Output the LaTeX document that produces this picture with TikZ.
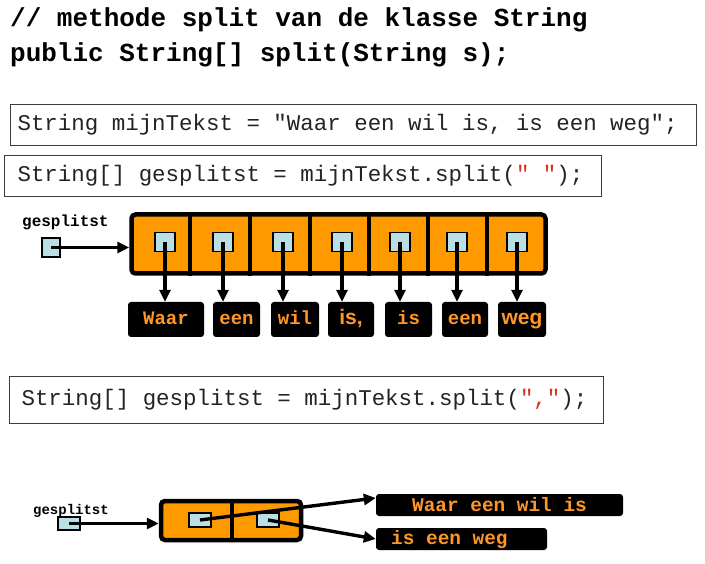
\documentclass[tikz,border=0pt]{standalone}
\usepackage{fontspec}
\setmonofont{Liberation Mono}
\newfontfamily\sansfam{Liberation Sans}
\usetikzlibrary{arrows.meta}

\definecolor{arrfill}{RGB}{255,153,0}
\definecolor{ptrfill}{RGB}{185,222,228}
\definecolor{wordtxt}{RGB}{255,150,40}
\definecolor{quotecol}{RGB}{215,50,30}
\definecolor{codetxt}{RGB}{35,35,35}
\definecolor{framecol}{RGB}{60,60,60}

% fixed-width spaces for the monospaced text
\newcommand{\monospaces}{\spaceskip=0.6em\relax\xspaceskip=0.6em\relax}

\begin{document}
\begin{tikzpicture}[x=1pt,y=-1pt,
  titletext/.style={anchor=base west, inner sep=0pt, font=\ttfamily\bfseries\fontsize{26}{30}\selectfont\monospaces},
  codebox/.style={draw=framecol, line width=1.1pt, anchor=north west, minimum height=41pt,
    align=left, inner ysep=0pt, text=codetxt, font=\ttfamily\fontsize{22.45}{26}\selectfont},
  arraybox/.style={draw=black, fill=arrfill, line width=4.5pt, rounded corners=4pt, inner sep=0pt},
  divider/.style={line width=4.5pt},
  ptr/.style={draw=black, fill=ptrfill, line width=1.1pt, inner sep=0pt},
  word/.style={fill=black, rounded corners=3pt, inner sep=0pt, minimum height=35pt,
    text height=11pt, text depth=0pt, text=wordtxt, font=\ttfamily\bfseries\fontsize{19}{22}\selectfont},
  wordsans/.style={word, font=\sansfam\bfseries\fontsize{21}{24}\selectfont},
  resultbox/.style={fill=black, rounded corners=3pt, inner sep=0pt, minimum height=22pt},
  resulttext/.style={anchor=base west, inner sep=0pt, text=wordtxt, font=\ttfamily\bfseries\fontsize{19.4}{22}\selectfont\monospaces},
  varname/.style={anchor=base west, inner sep=0pt, font=\ttfamily\bfseries\fontsize{16}{18}\selectfont},
  link/.style={line width=3.4pt, -{Triangle[length=12pt,width=11pt]}},
]
\useasboundingbox (0,0) rectangle (705,564);

% method signature
\node[titletext] (title1) at (10,27) {// methode split van de klasse String};
\node[titletext] (title2) at (10,62) {public String[] split(String s);};

% code lines
\node[codebox, inner xsep=7pt, text width=672pt] (b1) at (10,104)
  {\monospaces String mijnTekst = "Waar een wil is, is een weg";};
\node[codebox, inner xsep=13pt, text width=571pt] (b2) at (4,155)
  {\monospaces String[] gesplitst = mijnTekst.split(\textcolor{quotecol}{" "});};
\node[codebox, inner xsep=12pt, text width=570pt, minimum height=47pt] (b3) at (9,376)
  {\monospaces String[] gesplitst = mijnTekst.split(\textcolor{quotecol}{","});};

% split on spaces: array of seven references
\node[arraybox, minimum width=414pt, minimum height=59pt] (arr) at (338.5,244) {};
\foreach \x in {190,250,310,369,428,487}
  \draw[divider] (\x,0 |- arr.north) -- (\x,0 |- arr.south);
\foreach \i/\x in {1/165,2/223,3/283,4/342,5/400,6/457,7/517}
  \node[ptr, minimum width=20pt, minimum height=19pt] (p\i) at (\x,242) {};

\node[word, minimum width=76pt] (w1) at (166,319.5) {Waar};
\node[word, minimum width=47pt] (w2) at (236.5,319.5) {een};
\node[word, minimum width=48pt] (w3) at (295,319.5) {wil};
\node[wordsans, minimum width=46pt] (w4) at (351,319.5) {is,};
\node[word, minimum width=47pt] (w5) at (408.5,319.5) {is};
\node[word, minimum width=46pt] (w6) at (465,319.5) {een};
\node[wordsans, minimum width=48pt] (w7) at (522,319.5) {weg};

\foreach \i in {1,...,7}
  \draw[link] (p\i.center) -- (p\i.center |- w\i.north);

\node[varname] (g1lab) at (22,227) {gesplitst};
\node[ptr, minimum width=18pt, minimum height=19pt] (g1) at (51,247.5) {};
\draw[link] (g1.center) -- (g1.center -| arr.west);

% split on commas: array of two references
\node[varname, font=\ttfamily\bfseries\fontsize{14}{16}\selectfont] (g2lab) at (33,514) {gesplitst};
\node[ptr, minimum width=22pt, minimum height=13pt] (g2) at (69,523.5) {};

\node[arraybox, minimum width=140pt, minimum height=39pt] (arr2) at (231,520.5) {};
\draw[divider] (232,0 |- arr2.north) -- (232,0 |- arr2.south);
\node[ptr, minimum width=22pt, minimum height=14pt] (q1) at (200,520) {};
\node[ptr, minimum width=22pt, minimum height=14pt] (q2) at (268,520) {};

\node[resultbox, minimum width=247pt] (r1) at (499.5,505) {};
\node[resultbox, minimum width=171pt] (r2) at (461.5,539) {};
\node[resulttext] (t1) at (412,511) {Waar een wil is};
\node[resulttext] (t2) at (391,544) {is een weg};

\draw[link] (g2.center) -- (g2.center -| arr2.west);
\draw[link] (q1.center) -- ([yshift=7pt]r1.west);
\draw[link] (q2.center) -- (r2.west);
\end{tikzpicture}
\end{document}
